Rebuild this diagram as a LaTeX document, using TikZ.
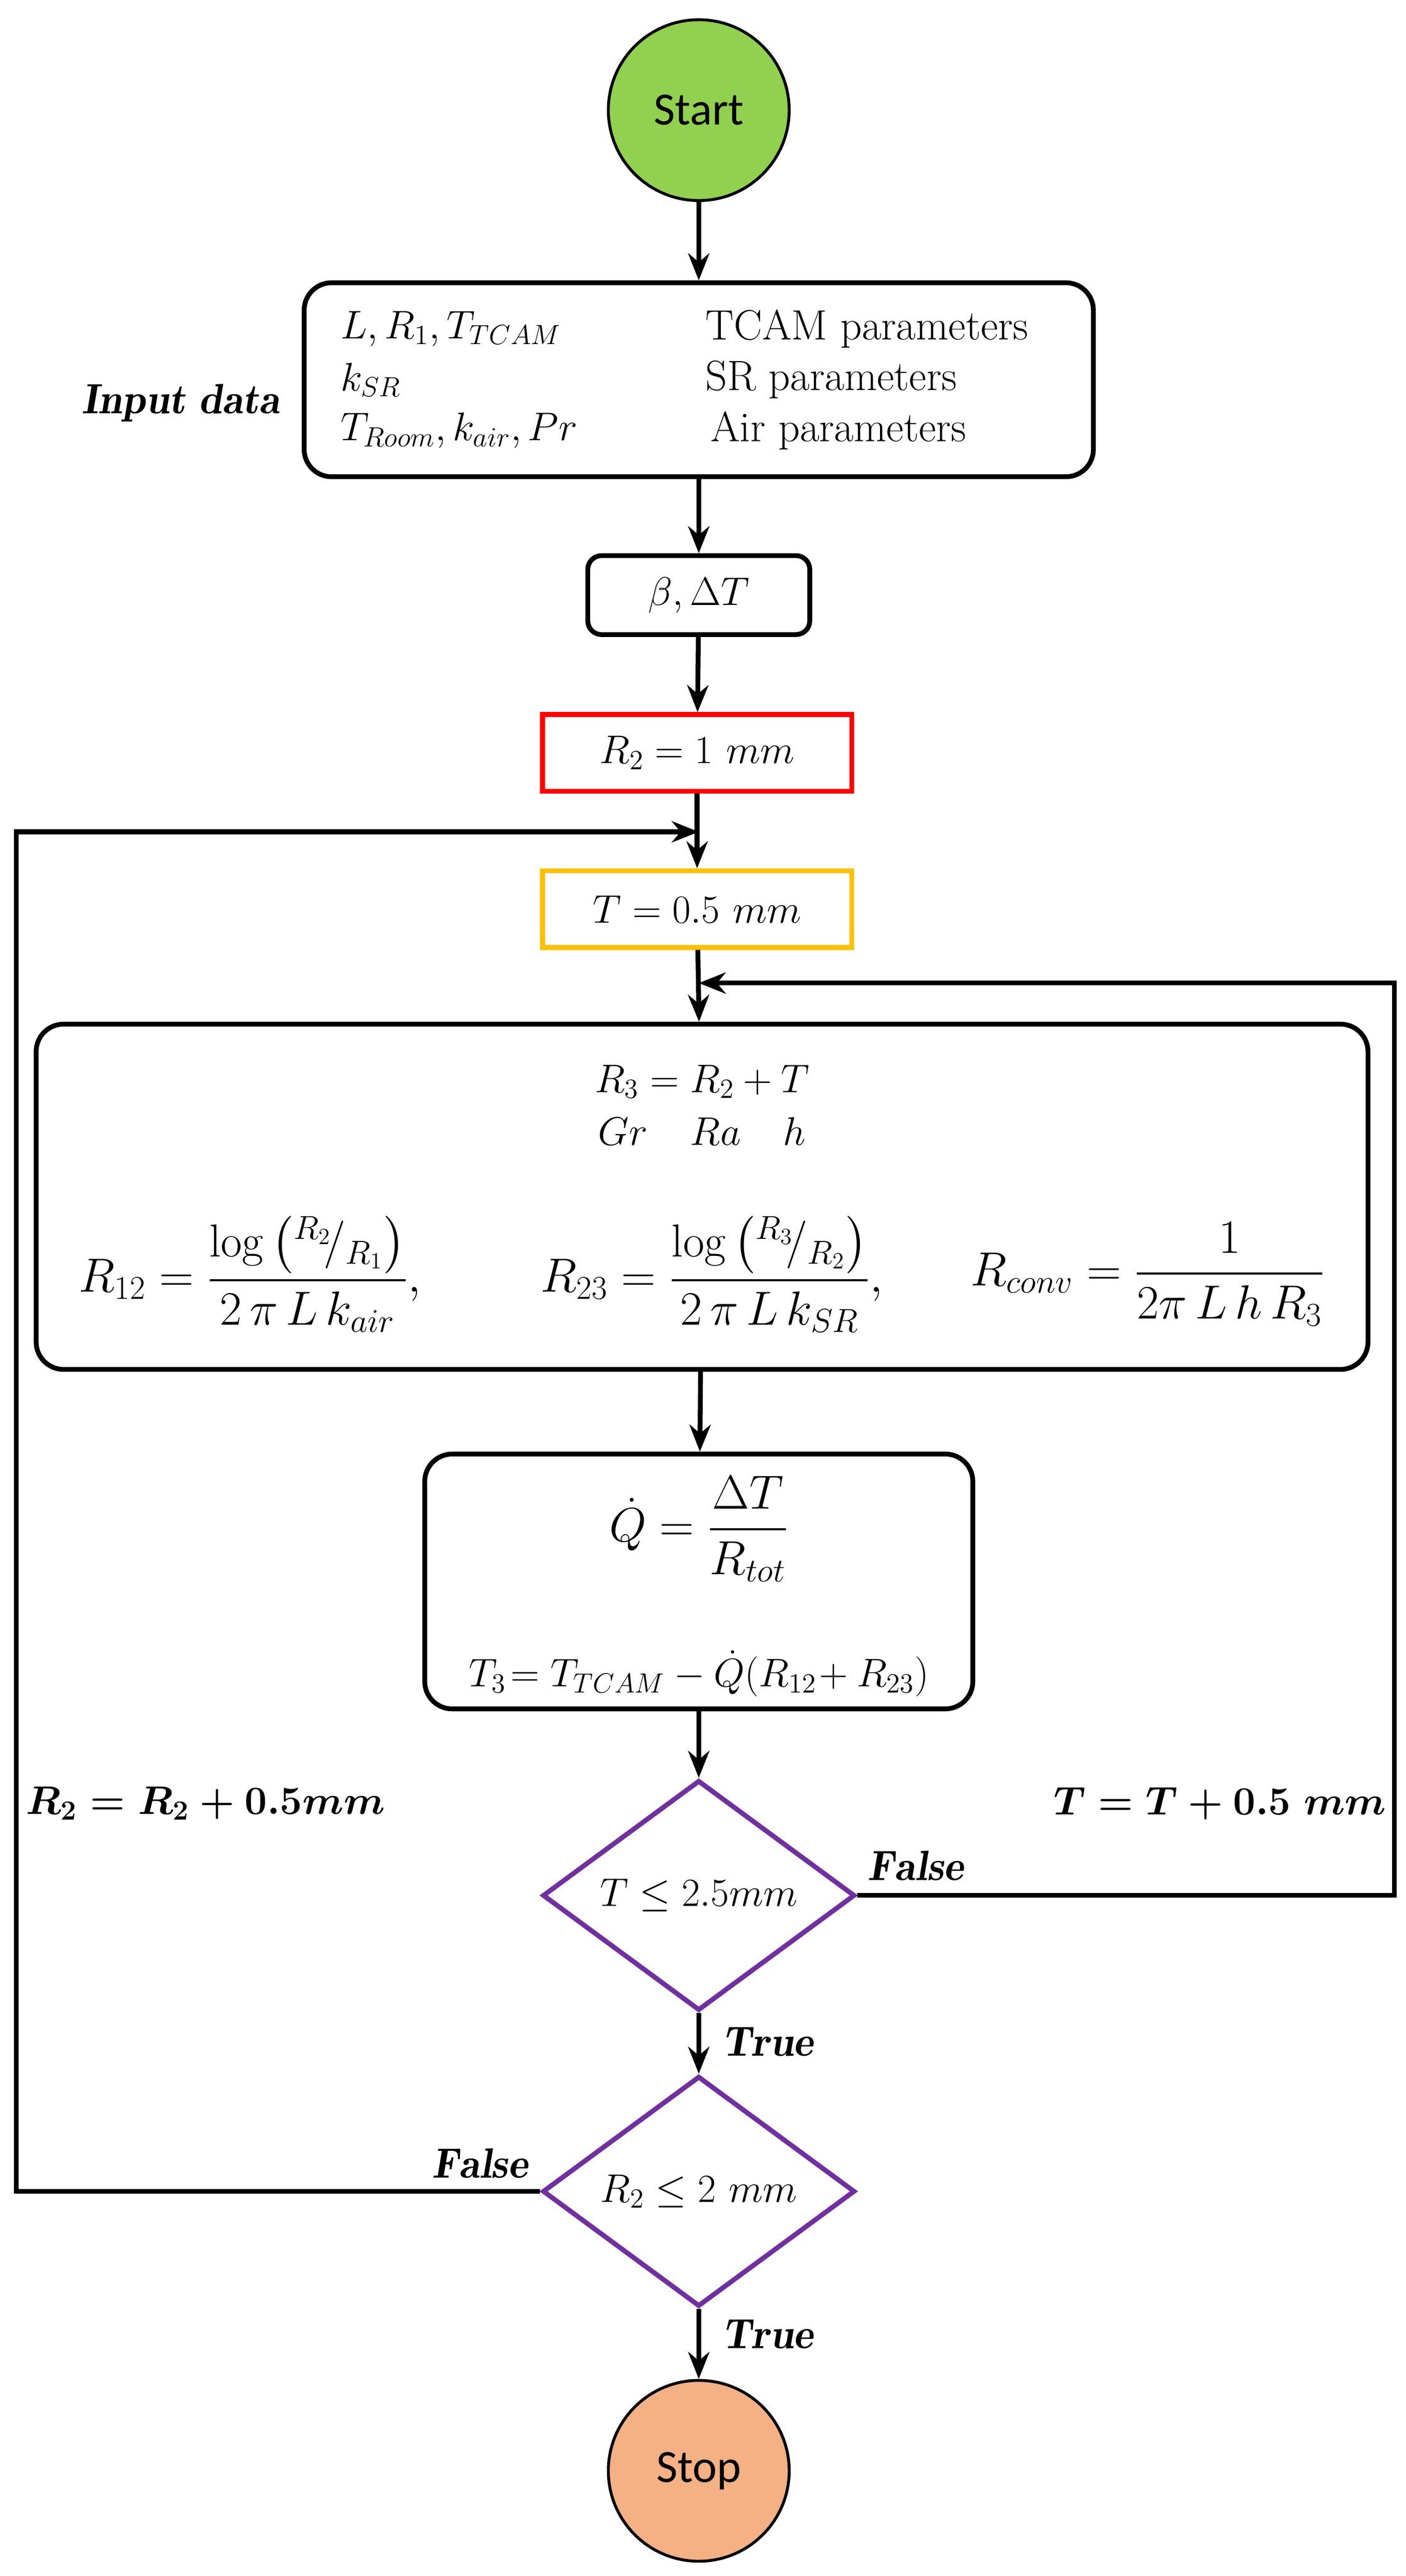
\documentclass[tikz,border=0pt]{standalone}
\usepackage{amsmath}
\usepackage{fontspec}
\newfontfamily\carl{Carlito}
\usetikzlibrary{shapes.geometric,arrows.meta}
\definecolor{startg}{HTML}{92D050}
\definecolor{stopo}{HTML}{F4B183}
\definecolor{orng}{HTML}{FFC000}
\definecolor{purp}{HTML}{7030A0}
\begin{document}
\begin{tikzpicture}[x=0.03cm,y=-0.03cm,
  every node/.style={font=\fontsize{22}{26}\selectfont},
  fml/.style={font=\fontsize{24}{28}\selectfont},
  box/.style={draw,line width=2.5pt,rounded corners=0.5cm,align=center,inner sep=0pt},
  sbox/.style={draw,line width=2.5pt,align=center,inner sep=0pt,minimum height=1.4cm,minimum width=5.64cm},
  circ/.style={circle,draw,line width=1.5pt,minimum size=3.3cm,font=\carl\fontsize{24}{28}\selectfont},
  dia/.style={diamond,draw=purp,line width=2.5pt,minimum width=5.7cm,minimum height=3.8cm,inner sep=0pt},
  arr/.style={line width=2.5pt,-{Stealth[length=14pt,width=11pt]}},
  ln/.style={line width=2.5pt}]
\useasboundingbox (0,0) rectangle (855,1567);
\node[circ,fill=startg] (start) at (425,67) {Start};
\node[box,minimum width=14.4cm,minimum height=3.54cm] (input) at (425,231) {};
\node[anchor=west] at (203,200) {$L, R_1, T_{TCAM}$};
\node[anchor=west] at (203,231) {$k_{SR}$};
\node[anchor=west] at (203,262) {$T_{Room}, k_{air}, Pr$};
\node[anchor=west] at (425,200) {TCAM parameters};
\node[anchor=west] at (425,231) {SR parameters};
\node[anchor=west] at (428,262) {Air parameters};
\node (inlab) at (110,245) {$\boldsymbol{\mathit{Input\ data}}$};
\node[box,rounded corners=0.25cm,minimum width=4.05cm,minimum height=1.44cm] (beta) at (425,362) {$\beta, \Delta T$};
\node[sbox,draw=red] (r2) at (424,458) {$R_2 = 1\ mm$};
\node[sbox,draw=orng] (t) at (424,553) {$T = 0.5\ mm$};
\coordinate (m1) at (425,506);
\coordinate (m2) at (425,598);
\node[box,minimum width=24.3cm,minimum height=6.3cm] (big) at (427,728) {};
\node at (427,658) {$R_3 = R_2 + T$};
\node at (427,688) {$Gr\quad Ra\quad h$};
\node[fml] at (152,775) {$R_{12} = \dfrac{\log\left({}^{R_2}\!/_{R_1}\right)}{2\,\pi\,L\,k_{air}},$};
\node[fml] at (433,775) {$R_{23} = \dfrac{\log\left({}^{R_3}\!/_{R_2}\right)}{2\,\pi\,L\,k_{SR}},$};
\node[fml] at (698,775) {$R_{conv} = \dfrac{1}{2\pi\,L\,h\,R_3}$};
\node[box,minimum width=10cm,minimum height=4.65cm] (q) at (425,962) {};
\node[fml] at (425,930) {$\dot Q = \dfrac{\Delta T}{R_{tot}}$};
\node at (425,1018) {$T_3\!=T_{TCAM} - \dot Q(R_{12}\!+R_{23})$};
\node[dia] (d1) at (425,1153) {$T \le 2.5mm$};
\node[dia] (d2) at (425,1333) {$R_2 \le 2\ mm$};
\node[circ,fill=stopo] (stop) at (425,1503) {Stop};
\node at (125,1097) {$\boldsymbol{R_2 = R_2 + 0.5mm}$};
\node at (742,1097) {$\boldsymbol{T = T + 0.5\ mm}$};
\node at (557,1135) {$\boldsymbol{\mathit{False}}$};
\node at (467,1242) {$\boldsymbol{\mathit{True}}$};
\node at (292,1316) {$\boldsymbol{\mathit{False}}$};
\node at (467,1420) {$\boldsymbol{\mathit{True}}$};
\draw[arr] (start) -- (input);
\draw[arr] (input) -- (beta);
\draw[arr] (beta) -- (r2);
\draw[arr] (r2) -- (t);
\draw[arr] (t) -- (big);
\draw[arr] (big) -- (q);
\draw[arr] (q) -- (d1);
\draw[arr] (d1) -- (d2);
\draw[arr] (d2) -- (stop);
\draw[arr] (d1.east) -- (848,1153) -- (848,598) -- (m2);
\draw[arr] (d2.west) -- (10,1333) -- (10,506) -- (m1);
\end{tikzpicture}
\end{document}
